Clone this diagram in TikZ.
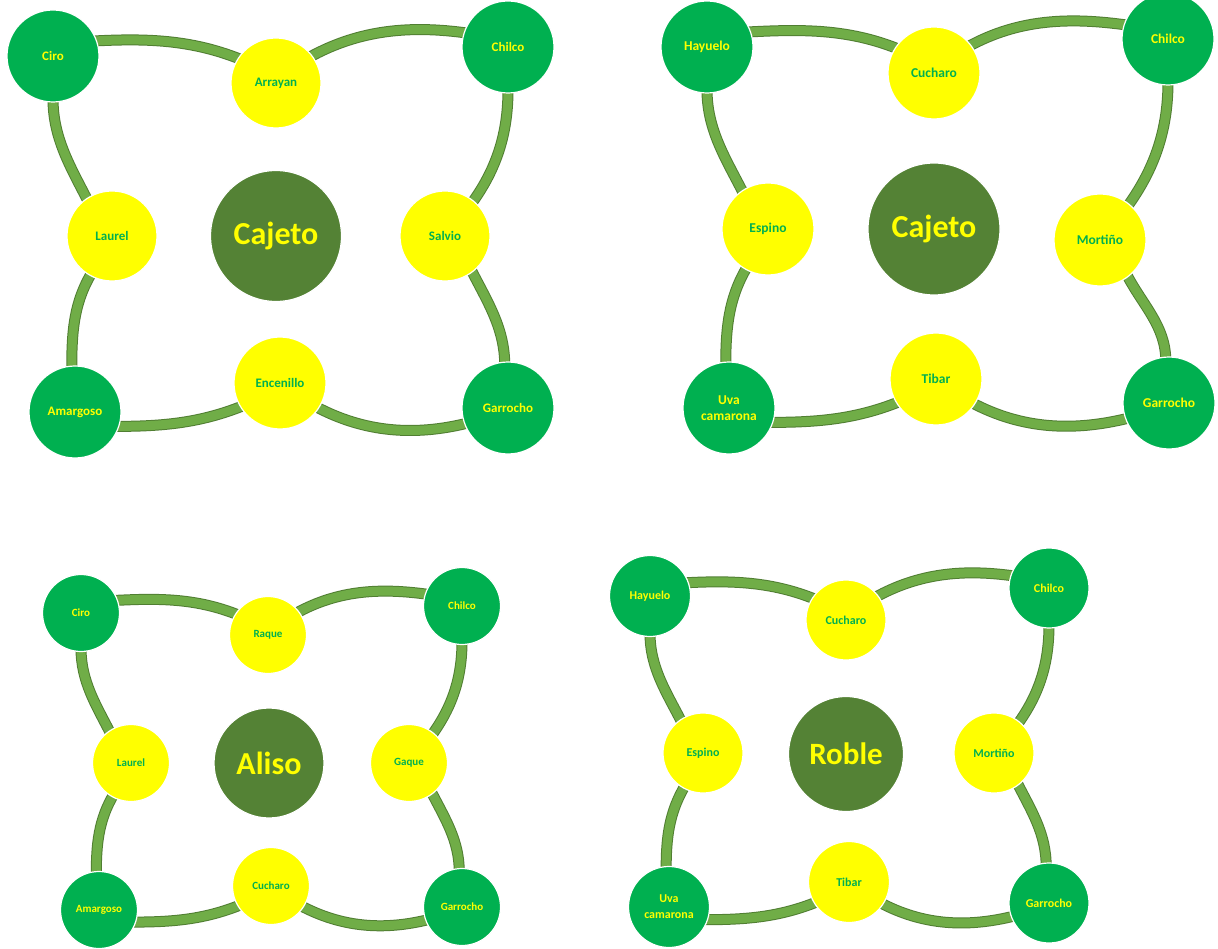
\documentclass[tikz,border=0pt]{standalone}
\usepackage{fontspec}
\setmainfont{Carlito}
\usetikzlibrary{backgrounds}

\definecolor{leaf}{HTML}{00B050}
\definecolor{sun}{HTML}{FFFF00}
\definecolor{moss}{HTML}{548235}
\definecolor{vine}{HTML}{70AD47}
\definecolor{vineedge}{HTML}{507E32}

\tikzset{
  ring/.style={circle, inner sep=0pt, draw=white, line width=1.2pt, align=center,
    font=\bfseries\fontsize{#1}{16}\selectfont},
  outer/.style={ring=#1, fill=leaf, text=sun},
  inner/.style={ring=#1, fill=sun, text=leaf},
  hub/.style={ring=#1, fill=moss, text=sun},
  vine/.style={draw=vineedge, line width=1pt, double=vine, double distance=9pt,
    shorten <=-4pt, shorten >=-4pt, looseness=0.9}
}

\begin{document}
\begin{tikzpicture}[x=1pt, y=1pt]
\path[use as bounding box] (0,0) rectangle (1218,-949);

% ---- Cajeto (left) ----
\node[hub=32,   minimum size=131pt] (a0) at (276,-236) {Cajeto};
\node[outer=13, minimum size=92pt]  (a1) at (53,-56)   {Ciro};
\node[inner=13, minimum size=90pt]  (a2) at (276,-83)  {Arrayan};
\node[outer=13, minimum size=92pt]  (a3) at (508,-47)  {Chilco};
\node[inner=13, minimum size=90pt]  (a4) at (445,-236) {Salvio};
\node[outer=13, minimum size=92pt]  (a5) at (508,-408) {Garrocho};
\node[inner=13, minimum size=92pt]  (a6) at (280,-383) {Encenillo};
\node[outer=13, minimum size=92pt]  (a7) at (75,-412)  {Amargoso};
\node[inner=13, minimum size=90pt]  (a8) at (112,-236) {Laurel};

% ---- Cajeto (right) ----
\node[hub=32,     minimum size=132pt] (b0) at (934,-229)  {Cajeto};
\node[outer=13.5, minimum size=92pt]  (b1) at (707,-47)   {Hayuelo};
\node[inner=13.5, minimum size=92pt]  (b2) at (934,-73)   {Cucharo};
\node[outer=13.5, minimum size=92pt]  (b3) at (1168,-39)  {Chilco};
\node[inner=13.5, minimum size=92pt]  (b4) at (1100,-240) {Mortiño};
\node[outer=13.5, minimum size=92pt]  (b5) at (1169,-403) {Garrocho};
\node[inner=13.5, minimum size=92pt]  (b6) at (936,-379)  {Tibar};
\node[outer=13.5, minimum size=92pt]  (b7) at (729,-408)  {Uva\\camarona};
\node[inner=13.5, minimum size=92pt]  (b8) at (768,-229)  {Espino};

% ---- Aliso ----
\node[hub=32,   minimum size=110pt] (c0) at (269,-763) {Aliso};
\node[outer=11, minimum size=77pt]  (c1) at (81,-613)  {Ciro};
\node[inner=11, minimum size=77pt]  (c2) at (268,-635) {Raque};
\node[outer=11, minimum size=77pt]  (c3) at (462,-606) {Chilco};
\node[inner=11, minimum size=77pt]  (c4) at (409,-763) {Gaque};
\node[outer=11, minimum size=77pt]  (c5) at (462,-907) {Garrocho};
\node[inner=11, minimum size=77pt]  (c6) at (271,-886) {Cucharo};
\node[outer=11, minimum size=77pt]  (c7) at (99,-910)  {Amargoso};
\node[inner=11, minimum size=77pt]  (c8) at (131,-763) {Laurel};

% ---- Roble ----
\node[hub=31,   minimum size=115pt] (d0) at (846,-754)  {Roble};
\node[outer=12, minimum size=81pt]  (d1) at (650,-596)  {Hayuelo};
\node[inner=12, minimum size=80pt]  (d2) at (846,-620)  {Cucharo};
\node[outer=12, minimum size=80pt]  (d3) at (1049,-588) {Chilco};
\node[inner=12, minimum size=80pt]  (d4) at (994,-753)  {Mortiño};
\node[outer=12, minimum size=80pt]  (d5) at (1049,-903) {Garrocho};
\node[inner=12, minimum size=81pt]  (d6) at (849,-882)  {Tibar};
\node[outer=12, minimum size=81pt]  (d7) at (669,-907)  {Uva\\camarona};
\node[inner=12, minimum size=80pt]  (d8) at (703,-753)  {Espino};

% curved bands linking the outer ring of each cluster
\begin{scope}[on background layer]
\foreach \p in {a,b,c,d}{
  \draw[vine] (\p1.19)   to[out=3,   in=158] (\p2.147);
  \draw[vine] (\p2.37)   to[out=29,  in=172] (\p3.162);
  \draw[vine] (\p3.-90)  to[out=-90, in=54]  (\p4.51);
  \draw[vine] (\p4.-53)  to[out=-63, in=90]  (\p5.94);
  \draw[vine] (\p5.-160) to[out=194, in=-28] (\p6.-33);
  \draw[vine] (\p6.-149) to[out=202, in=0]   (\p7.-18);
  \draw[vine] (\p7.94)   to[out=90,  in=239] (\p8.-119);
  \draw[vine] (\p8.124)  to[out=117, in=-90] (\p1.-90);
}
\end{scope}
\end{tikzpicture}
\end{document}
